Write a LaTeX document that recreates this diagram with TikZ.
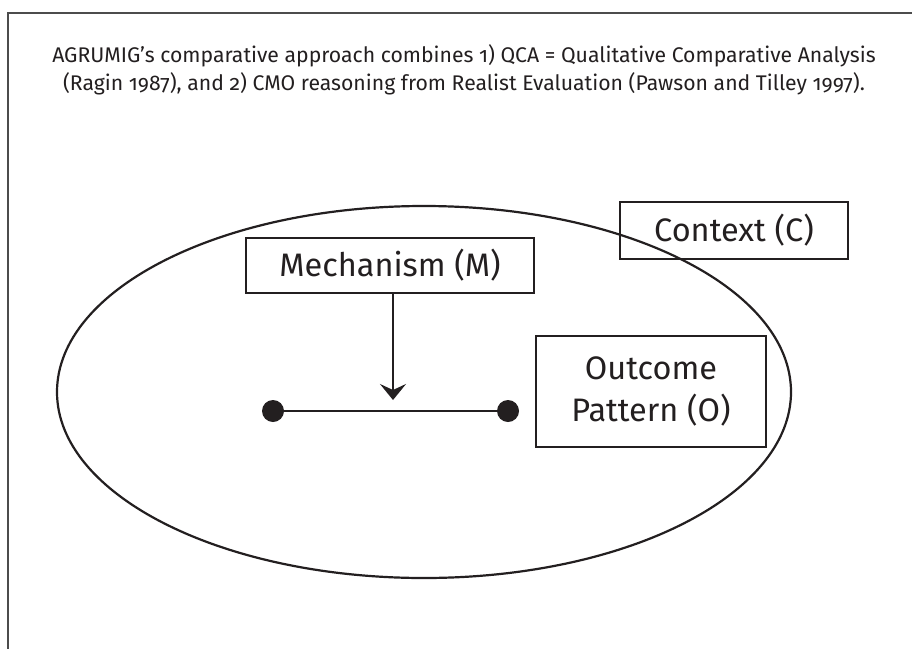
\documentclass[tikz,border=0pt]{standalone}
\usepackage{fontspec}
\setmainfont{Fira Sans}[Numbers=OldStyle]
\usetikzlibrary{arrows.meta}
\definecolor{ink}{HTML}{231F20}
\begin{document}
\begin{tikzpicture}[x=1pt,y=-1pt,
  box/.style={draw=ink,line width=2.2pt,inner sep=0pt,align=center,text=ink,font=\fontsize{32.5}{42}\selectfont},
  conn/.style={draw=ink,line width=2pt},
  dot/.style={circle,fill=ink,inner sep=0pt,minimum size=22pt}]
\useasboundingbox (0,0) rectangle (912,648);
\fill[white] (0,0) rectangle (912,648);
% frame (runs off right and bottom)
\draw[gray!60!black,line width=1.3pt] (8,700) -- (8,13) -- (930,13);
% caption
\node[text=ink,align=center,font=\fontsize{21.2}{28.5}\selectfont] (cap) at (464,70)
  {AGRUMIG’s comparative approach combines 1) QCA = Qualitative Comparative Analysis\\(Ragin 1987), and 2) CMO reasoning from Realist Evaluation (Pawson and Tilley 1997).};
% ellipse (context)
\draw[draw=ink,line width=2.2pt] (424,392) ellipse [x radius=367, y radius=186];
% boxes
\node[box,minimum width=228pt,minimum height=57pt] (ctx) at (734,230.5) {Context (C)};
\node[box,minimum width=288pt,minimum height=55pt] (mech) at (390,265.5) {Mechanism (M)};
\node[box,minimum width=230pt,minimum height=111pt] (out) at (651,391.5) {Outcome\\Pattern (O)};
% dots and line
\node[dot] (d1) at (273,411) {};
\node[dot] (d2) at (508,411) {};
\draw[conn] (d1) -- (d2);
\coordinate (tip) at (393,400);
\draw[conn,-{Stealth[length=16pt,width=26pt,inset=6pt]}] (mech.south -| tip) -- (tip);
\end{tikzpicture}
\end{document}
